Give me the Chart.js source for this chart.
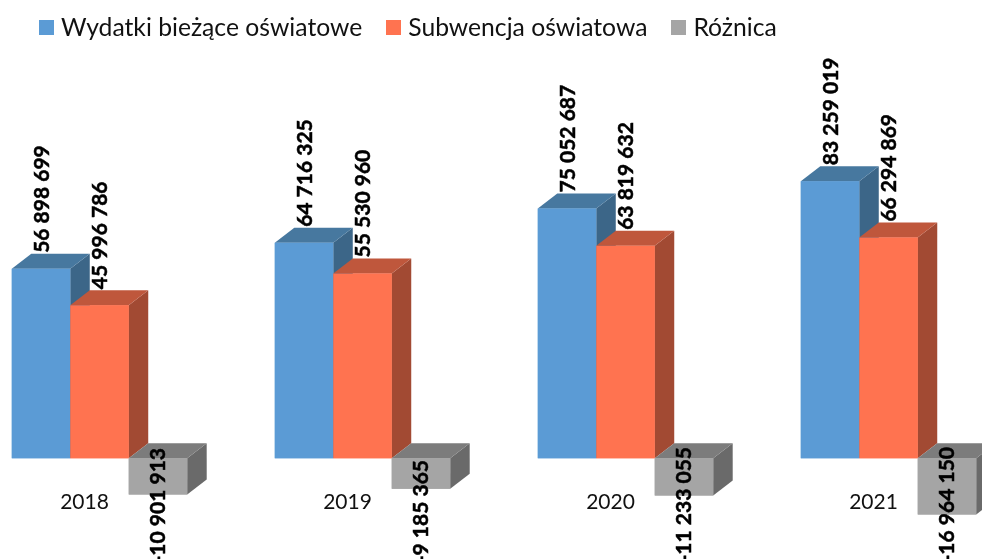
<!DOCTYPE html>
<html lang="pl">
<head>
<meta charset="utf-8">
<script src="https://cdn.jsdelivr.net/npm/chart.js@4"></script>
<style>
    html, body { margin: 0; padding: 0; background: #fff; overflow: hidden; }
    #wrap { position: relative; width: 982px; height: 559px; overflow: hidden; }
    /* the plot runs past both window edges, the outer half gaps are cut off */
    #myChart { position: absolute; left: -32px; top: 0; }
    #legend { position: absolute; left: 39px; top: 11px; display: flex; font: 24.7px Lato, sans-serif; color: #111; line-height: 32px; white-space: nowrap; }
    #legend div { display: flex; align-items: center; margin-right: 24px; }
    #legend i { width: 15px; height: 15px; margin-right: 7px; display: block; }
</style>
</head>
<body>
<div id="wrap">
    <canvas id="myChart" width="1052" height="559"></canvas>
    <div id="legend"></div>
</div>
<script>
const years = ["2018", "2019", "2020", "2021"];
const wydatki = [56898699, 64716325, 75052687, 83259019];
const subwencja = [45996786, 55530960, 63819632, 66294869];
const roznica = [-10901913, -9185365, -11233055, -16964150];

const seriesNames = ["Wydatki bieżące oświatowe", "Subwencja oświatowa", "Różnica"];
const frontColors = ["#5b9bd5", "#ff7350", "#a5a5a5"];
const topColors = ["#47789f", "#bf573c", "#7c7c7c"];
const sideColors = ["#3c6688", "#a24a33", "#6a6a6a"];

// 3d depth of the boxes and where the rotated negative labels end
const depthX = 19.5;
const depthY = 15;
const negLabelEnd = [448, 460, 447, 447];

function formatValue(v) {
    return String(v).replace(/\B(?=(\d{3})+(?!\d))/g, " ");
}

function poly(ctx, color, pts) {
    ctx.fillStyle = color;
    ctx.beginPath();
    pts.forEach((p, i) => (i ? ctx.lineTo(p[0], p[1]) : ctx.moveTo(p[0], p[1])));
    ctx.closePath();
    ctx.fill();
}

const boxes3d = {
    id: "boxes3d",
    afterDatasetsDraw(chart) {
        const ctx = chart.ctx;
        // chart.js paints the last dataset first, here it has to go left to right
        chart.data.datasets.forEach((ds, d) => {
            chart.getDatasetMeta(d).data.forEach((bar) => {
                const l = bar.x - bar.width / 2;
                const r = bar.x + bar.width / 2;
                const t = Math.min(bar.y, bar.base);
                const b = Math.max(bar.y, bar.base);
                poly(ctx, sideColors[d], [[r, t], [r + depthX, t - depthY], [r + depthX, b - depthY], [r, b]]);
                poly(ctx, topColors[d], [[l, t], [l + depthX, t - depthY], [r + depthX, t - depthY], [r, t]]);
                bar.draw(ctx);
            });
        });

        ctx.save();
        ctx.font = "bold 21px Lato, sans-serif";
        ctx.fillStyle = "#000";
        ctx.strokeStyle = "#000";
        ctx.lineWidth = 0.5; // Lato bold is a bit thin next to the original
        ctx.textBaseline = "middle";
        chart.data.datasets.forEach((ds, d) => {
            chart.getDatasetMeta(d).data.forEach((bar, i) => {
                const v = ds.data[i];
                ctx.save();
                if (v >= 0) {
                    ctx.translate(bar.x + 1, bar.y - depthY - 1);
                    ctx.textAlign = "left";
                } else {
                    ctx.translate(bar.x, negLabelEnd[i]);
                    ctx.textAlign = "right";
                }
                ctx.rotate(-Math.PI / 2);
                ctx.fillText(formatValue(v), 0, 0);
                ctx.strokeText(formatValue(v), 0, 0);
                ctx.restore();
            });
        });
        ctx.restore();
    },
};

const ctx = document.getElementById("myChart").getContext("2d");
new Chart(ctx, {
    type: "bar",
    data: {
        labels: years,
        datasets: [
            { label: seriesNames[0], data: wydatki, backgroundColor: frontColors[0] },
            { label: seriesNames[1], data: subwencja, backgroundColor: frontColors[1] },
            { label: seriesNames[2], data: roznica, backgroundColor: frontColors[2] },
        ],
    },
    options: {
        responsive: false,
        animation: false,
        layout: { padding: { top: 0, bottom: 1 } },
        datasets: { bar: { categoryPercentage: 0.667, barPercentage: 1 } },
        plugins: { legend: { display: false }, tooltip: { enabled: false } },
        scales: {
            y: { display: false, min: -30000000, max: 137700000 },
            x: {
                position: { y: -7000000 },
                grid: { display: false },
                border: { display: false },
                ticks: { color: "#111", font: { family: "Lato, sans-serif", size: 21 }, labelOffset: -15, padding: 0, maxRotation: 0 },
            },
        },
    },
    plugins: [boxes3d],
});

const legend = document.getElementById("legend");
seriesNames.forEach((name, i) => {
    const item = document.createElement("div");
    const box = document.createElement("i");
    box.style.background = frontColors[i];
    item.appendChild(box);
    item.appendChild(document.createTextNode(name));
    legend.appendChild(item);
});
</script>
</body>
</html>
